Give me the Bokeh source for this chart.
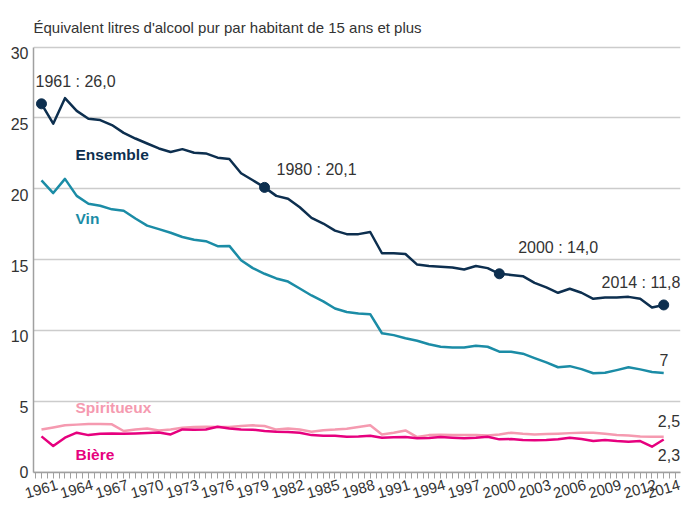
from bokeh.plotting import figure
from bokeh.models import ColumnDataSource, Label, FixedTicker, Range1d, LinearAxis, Grid
from bokeh.embed import file_html
from bokeh.resources import INLINE

# ---------------- data ----------------
years = list(range(1961, 2015))
ensemble = [26.0, 24.6, 26.4, 25.5, 24.95, 24.85, 24.5, 23.95, 23.55, 23.2,
            22.85, 22.6, 22.8, 22.55, 22.5, 22.2, 22.1, 21.1, 20.6, 20.1,
            19.5, 19.3, 18.7, 17.95, 17.55, 17.05, 16.8, 16.8, 16.95, 15.45,
            15.45, 15.4, 14.65, 14.55, 14.5, 14.45, 14.3, 14.55, 14.4, 14.0,
            13.92, 13.83, 13.36, 13.04, 12.66, 12.94, 12.66, 12.23, 12.33, 12.33,
            12.37, 12.23, 11.62, 11.8]
vin = [20.6, 19.7, 20.7, 19.5, 18.95, 18.8, 18.55, 18.45, 17.9, 17.4,
       17.15, 16.9, 16.6, 16.4, 16.3, 15.95, 15.97, 14.96, 14.4, 14.0,
       13.67, 13.45, 12.96, 12.47, 12.05, 11.55, 11.3, 11.2, 11.15, 9.8,
       9.67, 9.45, 9.27, 9.02, 8.85, 8.8, 8.8, 8.92, 8.85, 8.5,
       8.5, 8.36, 8.05, 7.74, 7.4, 7.48, 7.27, 6.98, 7.01, 7.2,
       7.4, 7.25, 7.07, 7.0]
spiritueux = [3.0, 3.15, 3.3, 3.35, 3.4, 3.4, 3.37, 2.9, 3.0, 3.08,
              2.94, 3.0, 3.13, 3.18, 3.2, 3.18, 3.18, 3.25, 3.3, 3.25,
              3.0, 3.08, 3.0, 2.85, 2.96, 3.0, 3.06, 3.18, 3.3, 2.66,
              2.78, 2.94, 2.47, 2.61, 2.64, 2.61, 2.61, 2.61, 2.59, 2.66,
              2.78, 2.71, 2.66, 2.68, 2.71, 2.75, 2.78, 2.78, 2.71, 2.61,
              2.59, 2.52, 2.5, 2.5]
biere = [2.52, 1.84, 2.43, 2.78, 2.61, 2.71, 2.73, 2.71, 2.73, 2.76,
         2.8, 2.66, 3.01, 2.99, 3.01, 3.2, 3.08, 3.01, 2.99, 2.9,
         2.85, 2.83, 2.78, 2.61, 2.57, 2.57, 2.5, 2.52, 2.57, 2.43,
         2.45, 2.47, 2.38, 2.4, 2.47, 2.43, 2.38, 2.43, 2.5, 2.31,
         2.33, 2.26, 2.24, 2.26, 2.31, 2.43, 2.33, 2.19, 2.26, 2.19,
         2.14, 2.19, 1.79, 2.3]
x_label_years = list(range(1961, 2013, 3)) + [2014]
y_tick_values = [0, 5, 10, 15, 20, 25, 30]
highlight_years = [1961, 1980, 2000, 2014]
highlight_texts = ["1961 : 26,0", "1980 : 20,1", "2000 : 14,0", "2014 : 11,8"]
title_text = "Équivalent litres d'alcool pur par habitant de 15 ans et plus"

# ---------------- styles ----------------
FONT = "Liberation Sans"
TEXT = "#333333"
C_ENS = "#0d2f4f"
C_VIN = "#1b8ca6"
C_SPI = "#f59ab0"
C_BIE = "#e6007e"
GRID = "#cccccc"
AXIS = "#a0a0a0"

X0, X1 = 1960.32, 2015.43
Y0 = -0.03         # tiny margin so the zero line is drawn as a grid line too
Y1 = 32.73         # headroom above 30 holds the title inside the frame
YMAX = 30
YSHIFT = 0.42      # value labels sit a little below their grid line
XSHIFT = 1.36      # centre the rotated year labels on their ticks

p = figure(width=687, height=509, x_range=Range1d(X0, X1), y_range=Range1d(Y0, Y1),
           output_backend="svg", toolbar_location=None, title=None,
           x_axis_location=None, y_axis_location=None,
           min_border_left=33, min_border_right=7, min_border_top=8, min_border_bottom=37)
p.outline_line_color = None
p.background_fill_color = "white"
p.border_fill_color = "white"
p.extra_y_ranges = {"ylab": Range1d(Y0 + YSHIFT, Y1 + YSHIFT)}
p.extra_x_ranges = {"xlab": Range1d(X0 - XSHIFT, X1 - XSHIFT)}

p.xgrid.visible = False
p.ygrid.ticker = FixedTicker(ticks=y_tick_values[1:])
p.ygrid.grid_line_color = GRID
p.ygrid.grid_line_width = 1.5
zero_line = Grid(dimension=1, ticker=FixedTicker(ticks=[0]),
                 grid_line_color=AXIS, grid_line_width=1.5)
p.add_layout(zero_line)

# bottom axis: line, half-yearly ticks and rotated year labels
half_years = [1960.5 + 0.5 * i for i in range(110)]
xaxis = LinearAxis(x_range_name="xlab",
                   ticker=FixedTicker(ticks=x_label_years,
                                      minor_ticks=[h - XSHIFT for h in half_years]),
                   axis_line_color=AXIS, axis_line_width=1.5,
                   major_tick_line_color=None, major_tick_out=6, major_tick_in=0,
                   minor_tick_line_color=AXIS, minor_tick_out=6, minor_tick_in=0,
                   major_label_orientation=0.28, major_label_standoff=6,
                   major_label_text_font=FONT, major_label_text_font_size="15px",
                   major_label_text_color=TEXT)
p.add_layout(xaxis, "below")

# left axis: line from 0 to 30 and value labels
ylab_ticks = [YSHIFT] + y_tick_values[1:]
yaxis = LinearAxis(y_range_name="ylab", ticker=FixedTicker(ticks=ylab_ticks),
                   bounds=(YSHIFT, YMAX + YSHIFT),
                   axis_line_color=AXIS, axis_line_width=1.5,
                   major_tick_line_color=None, minor_tick_line_color=None,
                   major_tick_out=0, major_tick_in=0, minor_tick_out=0, minor_tick_in=0,
                   major_label_standoff=5,
                   major_label_overrides={YSHIFT: "0"},
                   major_label_text_font=FONT, major_label_text_font_size="16px",
                   major_label_text_color=TEXT)
p.add_layout(yaxis, "left")

src = ColumnDataSource(dict(year=years, ensemble=ensemble, vin=vin,
                            spiritueux=spiritueux, biere=biere))
for col, color in (("spiritueux", C_SPI), ("biere", C_BIE), ("vin", C_VIN), ("ensemble", C_ENS)):
    p.line(x="year", y=col, source=src, line_color=color, line_width=2.5, line_join="round")

hy = [ensemble[years.index(y)] for y in highlight_years]
p.scatter(x=highlight_years, y=hy, size=10, color=C_ENS)


def add_text(text, x, y, size, color=TEXT, bold=False):
    p.add_layout(Label(x=x, y=y, text=text, text_baseline="middle", text_align="left",
                       text_font=FONT, text_font_size=size, text_color=color,
                       text_font_style="bold" if bold else "normal"))


# title (inside the frame's headroom)
add_text(title_text, X0, 31.38, "15px")

# highlighted value annotations
ann_pos = [(1960.49, 27.61), (1981.02, 21.34), (2001.6, 15.86), (2008.7, 13.37)]
for (ax, ay), t in zip(ann_pos, highlight_texts):
    add_text(t, ax, ay, "16px")

# end values
add_text("7", 2013.64, 7.94, "16px")
add_text("2,5", 2013.5, 3.58, "16px")
add_text("2,3", 2013.5, 1.2, "16px")

# series names
add_text("Ensemble", 1963.9, 22.44, "15.5px", C_ENS, True)
add_text("Vin", 1963.9, 17.87, "15.5px", C_VIN, True)
add_text("Spiritueux", 1963.9, 4.58, "15.5px", C_SPI, True)
add_text("Bière", 1963.9, 1.23, "15.5px", C_BIE, True)

open("out.html", "w").write(file_html(p, INLINE))
